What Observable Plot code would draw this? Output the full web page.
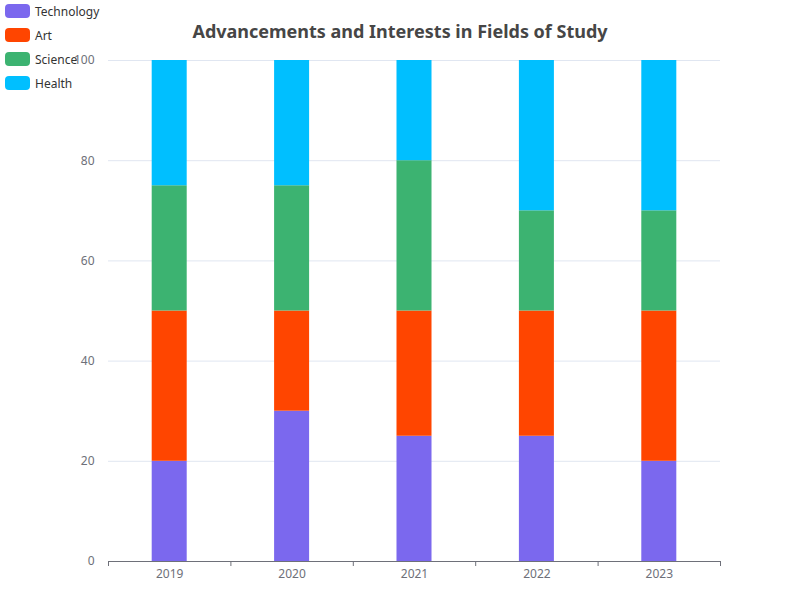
<!DOCTYPE html>
<html><head><meta charset="utf-8">
<script src="https://cdn.jsdelivr.net/npm/d3@7"></script>
<script src="https://cdn.jsdelivr.net/npm/@observablehq/plot@0.6"></script>
<style>
body{margin:0;font-family:"Noto Sans",sans-serif;}
#wrap{position:relative;width:800px;height:600px;}
#title{position:absolute;top:19px;left:0;width:800px;text-align:center;font-size:18px;font-weight:bold;color:#464646;}
#legend{position:absolute;left:5px;top:-1px;font-size:12px;color:#333;}
.li{display:flex;align-items:center;height:24px;}
.sw{width:25px;height:14px;border-radius:4px;margin-right:5px;}
#chart{position:absolute;top:0;left:0;}
</style></head><body>
<div id="wrap"><div id="chart"></div><div id="title">Advancements and Interests in Fields of Study</div><div id="legend"></div></div>
<script>
const years = ["2019","2020","2021","2022","2023"];
const seriesNames = ["Technology","Art","Science","Health"];
const colors = ["#7b68ee","#ff4500","#3cb371","#00bfff"];
const technology = [20,30,25,25,20];
const art = [30,20,25,25,30];
const science = [25,25,30,20,20];
const health = [25,25,20,30,30];
const yTicks = [0,20,40,60,80,100];

const vals = [technology, art, science, health];
const rows = [];
years.forEach((y,i)=>{
  let base=0;
  seriesNames.forEach((s,k)=>{
    rows.push({i, series:s, y1:base, y2:base+vals[k][i]});
    base+=vals[k][i];
  });
});
const hw = 0.143;
const chart = Plot.plot({
  width:800, height:600,
  marginTop:60, marginBottom:39, marginLeft:108, marginRight:80,
  style:{fontFamily:"Noto Sans, sans-serif", fontSize:"12px", color:"#6e7079"},
  x:{domain:[0,5], axis:null},
  y:{domain:[0,100], axis:null},
  color:{domain:seriesNames, range:colors},
  marks:[
    Plot.gridY(yTicks,{stroke:"#e0e6f1", strokeOpacity:1}),
    Plot.axisY({ticks:yTicks, tickSize:0, tickPadding:14, fill:"#6e7079"}),
    Plot.rect(rows,{x1:d=>d.i+0.5-hw, x2:d=>d.i+0.5+hw, y1:"y1", y2:"y2", fill:"series"}),
    Plot.ruleY([0],{stroke:"#6e7079"}),
    Plot.axisX({ticks:[0,1,2,3,4,5], tickFormat:()=>"", tickSize:5, stroke:"#6e7079"}),
    Plot.axisX({ticks:[0.5,1.5,2.5,3.5,4.5], tickFormat:d=>years[Math.floor(d)], tickSize:0, tickPadding:8, fill:"#6e7079"})
  ]
});
document.getElementById("chart").appendChild(chart);
const lg=document.getElementById("legend");
seriesNames.forEach((s,k)=>{
  lg.insertAdjacentHTML("beforeend",`<div class="li"><div class="sw" style="background:${colors[k]}"></div>${s}</div>`);
});
</script></body></html>
